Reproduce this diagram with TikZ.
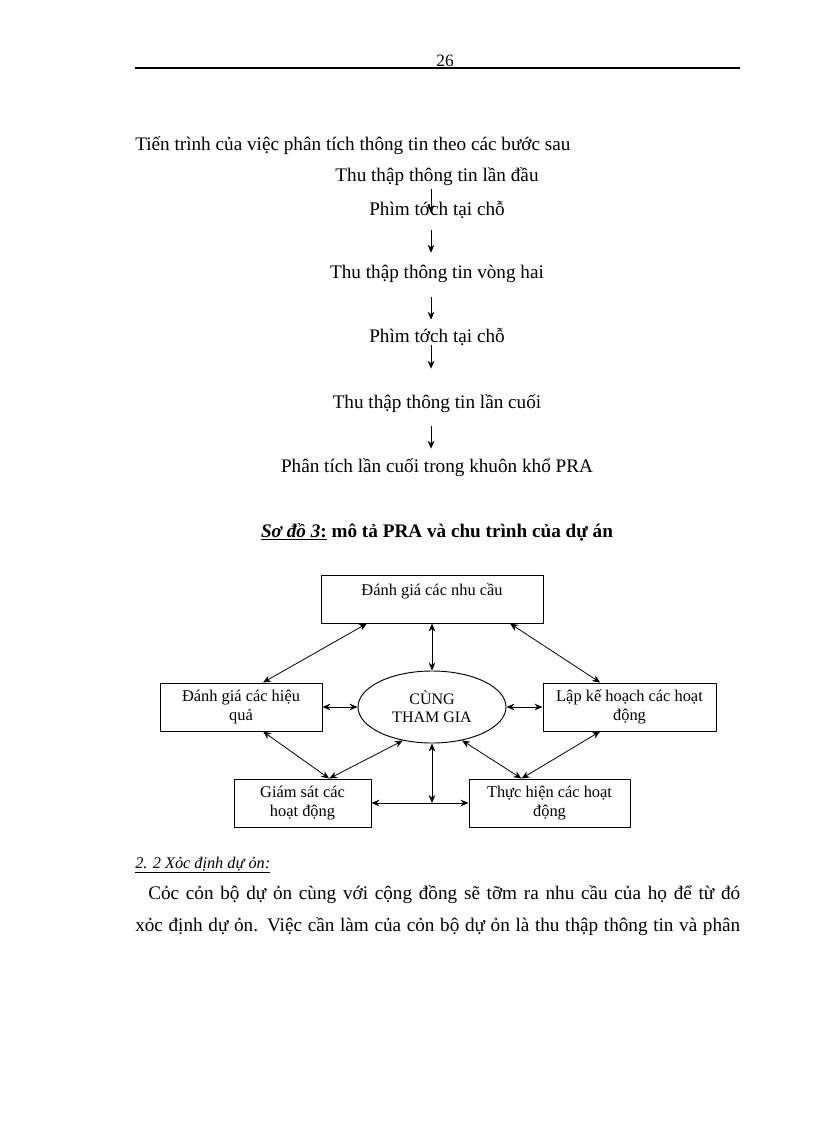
\documentclass[tikz,border=0pt]{standalone}
\usepackage{fontspec}
\setmainfont{Liberation Serif}
\usetikzlibrary{arrows.meta,calc,shapes.geometric}
\begin{document}
\begin{tikzpicture}[x=0.75pt, y=-0.75pt, line join=round, >={Stealth[length=6pt,width=5pt]}, font=\fontsize{14.4}{17}\selectfont,
	txt/.style={inner sep=0pt, text height=12pt, text depth=3pt},
	box/.style={draw, line width=0.7pt, align=center, inner sep=2pt, font=\fontsize{12.3}{14.25}\selectfont},
	link/.style={<->, line width=0.6pt}]
	\useasboundingbox (0,0) rectangle (816,1123);
	% page header
	\node[txt, font=\fontsize{13}{15}\selectfont] (page) at (445,61) {26};
	\draw[line width=1.5pt] (135,68) -- (740,68);
	\node[txt, anchor=west] (intro) at (135,145) {Tiến trình của việc phân tích thông tin theo các bước sau};
	% steps
	\node[txt] (s1) at (437,176) {Thu thập thông tin lần đầu};
	\node[txt] (s2) at (437,209) {Phìm tớch tại chỗ};
	\node[txt] (s3) at (437,272) {Thu thập thông tin vòng hai};
	\node[txt] (s4) at (437,336) {Phìm tớch tại chỗ};
	\node[txt] (s5) at (437,402) {Thu thập thông tin lần cuối};
	\node[txt] (s6) at (437,466) {Phân tích lần cuối trong khuôn khổ PRA};
	\draw[->, line width=0.7pt] ($(s1.south -| 431,0)+(0,3)$) -- ($(s2.center -| 431,0)+(0,4)$);
	\draw[->, line width=0.7pt] ($(s2.south -| 431,0)+(0,11)$) -- ($(s3.north -| 431,0)+(0,-9)$);
	\draw[->, line width=0.7pt] ($(s3.south -| 431,0)+(0,15)$) -- ($(s4.north -| 431,0)+(0,-6)$);
	\draw[->, line width=0.7pt] ($(s4.south -| 431,0)+(0,-1)$) -- ($(s5.north -| 431,0)+(0,-23)$);
	\draw[->, line width=0.7pt] ($(s5.south -| 431,0)+(0,14)$) -- ($(s6.north -| 431,0)+(0,-7)$);
	% caption
	\node[txt] (cap) at (437,531) {\textbf{\underline{\textit{Sơ đồ 3}:}} \textbf{mô tả PRA và chu trình của dự án}};
	% cycle
	\node[box, minimum width=166.5pt, minimum height=36pt] (needs) at (432,599) {Đánh giá các nhu cầu\\~};
	\node[box, minimum width=121.5pt, minimum height=36pt] (effects) at (241,707) {Đánh giá các hiệu\\quả};
	\node[box, minimum width=129.75pt, minimum height=36pt] (plan) at (629.5,707) {Lập kế hoạch các hoạt\\động};
	\node[box, minimum width=102.75pt, minimum height=36pt] (monitor) at (302.5,803) {Giám sát các\\hoạt động};
	\node[box, minimum width=120.75pt, minimum height=36pt] (implement) at (549.5,803) {Thực hiện các hoạt\\động};
	\node[box, ellipse, inner sep=0pt, minimum width=111pt, minimum height=54pt, font=\fontsize{12}{13.5}\selectfont] (joint) at (432,707) {CÙNG\\THAM GIA};
	\coordinate (meet) at (monitor.east -| joint.south);
	\draw[link] (needs.south) -- (joint.north);
	\draw[link] ([xshift=-48.75pt]needs.south) -- ([xshift=16.5pt]effects.north);
	\draw[link] ([xshift=58.5pt]needs.south) -- ([xshift=-22pt]plan.north);
	\draw[link] (effects.east) -- (joint.west);
	\draw[link] (joint.east) -- (plan.west);
	\draw[link] ([xshift=16.5pt]effects.south) -- ([xshift=20pt]monitor.north);
	\draw[link] ([xshift=20pt]monitor.north) -- (joint.-131);
	\draw[link] (joint.south) -- (meet);
	\draw[link] (monitor.east) -- (implement.west);
	\draw[link] ([xshift=-21pt]implement.north) -- (joint.-48);
	\draw[link] ([xshift=-22pt]plan.south) -- ([xshift=-21pt]implement.north);
	% following text
	\node[txt, anchor=west, font=\fontsize{12.2}{14}\selectfont] (sect) at (135,862) {\underline{\textit{2. 2 Xỏc định dự ỏn:}}};
	\node[txt, anchor=west] (line1) at (148,893) {\makebox[444pt][s]{Cỏc cỏn bộ dự ỏn cùng với cộng đồng sẽ tỡm ra nhu cầu của họ để từ đó}};
	\node[txt, anchor=west] (line2) at (135,925) {\makebox[453.75pt][s]{xỏc định dự ỏn. Việc cần làm của cỏn bộ dự ỏn là thu thập thông tin và phân}};
\end{tikzpicture}
\end{document}
